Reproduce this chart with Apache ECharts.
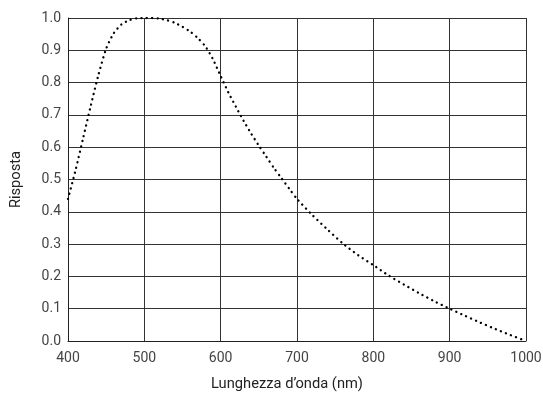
<!DOCTYPE html>
<html>
<head>
<meta charset="utf-8">
<script src="https://cdn.jsdelivr.net/npm/echarts@6/dist/echarts.min.js"></script>
<style>
  html, body { margin: 0; padding: 0; background: #fff; }
  #chart { width: 543px; height: 394px; }
</style>
</head>
<body>
<div id="chart"></div>
<script>
// wavelength (nm) and relative response
const wavelength = [400, 410, 420, 430, 440, 450, 460, 470, 480, 490, 500, 510, 520, 530, 540,
  550, 560, 570, 580, 590, 600, 610, 620, 630, 640, 650, 660, 670, 680, 690, 700,
  720, 740, 760, 780, 800, 820, 840, 860, 880, 900, 920, 940, 960, 980, 1000];
const response = [0.44, 0.53, 0.63, 0.73, 0.825, 0.905, 0.953, 0.98, 0.993, 0.999, 1.0, 1.0, 0.998, 0.993, 0.985,
  0.973, 0.958, 0.938, 0.912, 0.872, 0.82, 0.77, 0.725, 0.682, 0.642, 0.605, 0.57, 0.535, 0.503, 0.471, 0.44,
  0.39, 0.345, 0.302, 0.266, 0.235, 0.203, 0.175, 0.148, 0.123, 0.10, 0.078, 0.057, 0.037, 0.018, 0.0];

const xTicks = { min: 400, max: 1000, interval: 100 };
const yTicks = { min: 0, max: 1, interval: 0.1 };

const chart = echarts.init(document.getElementById('chart'));
const font = 'Roboto, "Noto Sans", sans-serif';

chart.setOption({
  animation: false,
  grid: { left: 68, right: 17, top: 18, bottom: 53, containLabel: false, outerBoundsMode: 'none' },
  xAxis: {
    type: 'value',
    min: xTicks.min, max: xTicks.max, interval: xTicks.interval,
    name: 'Lunghezza d\u2019onda (nm)',
    nameLocation: 'middle',
    nameGap: 36,
    nameTextStyle: { color: '#222', fontSize: 14.7, fontFamily: font, padding: [0, 20, 0, 0] },
    axisLine: { show: true, lineStyle: { color: '#222', width: 1 } },
    axisTick: { show: false },
    axisLabel: { color: '#444', fontSize: 14, fontFamily: font, margin: 10, formatter: v => String(v) },
    splitLine: { show: true, lineStyle: { color: '#333', width: 1 } }
  },
  yAxis: {
    type: 'value',
    min: yTicks.min, max: yTicks.max, interval: yTicks.interval,
    name: 'Risposta',
    nameLocation: 'middle',
    nameGap: 44,
    nameRotate: 90,
    nameTextStyle: { color: '#222', fontSize: 14.7, fontFamily: font },
    axisLine: { show: true, lineStyle: { color: '#222', width: 1 } },
    axisTick: { show: false },
    axisLabel: {
      color: '#444', fontSize: 14, fontFamily: font, margin: 7,
      formatter: v => v.toFixed(1)
    },
    splitLine: { show: true, lineStyle: { color: '#333', width: 1 } }
  },
  series: [{
    type: 'line',
    data: wavelength.map((w, i) => [w, response[i]]),
    smooth: 0.25,
    showSymbol: false,
    lineStyle: { color: '#000', width: 2.3, type: [0.1, 5.3], cap: 'round' }
  }]
});
</script>
</body>
</html>
